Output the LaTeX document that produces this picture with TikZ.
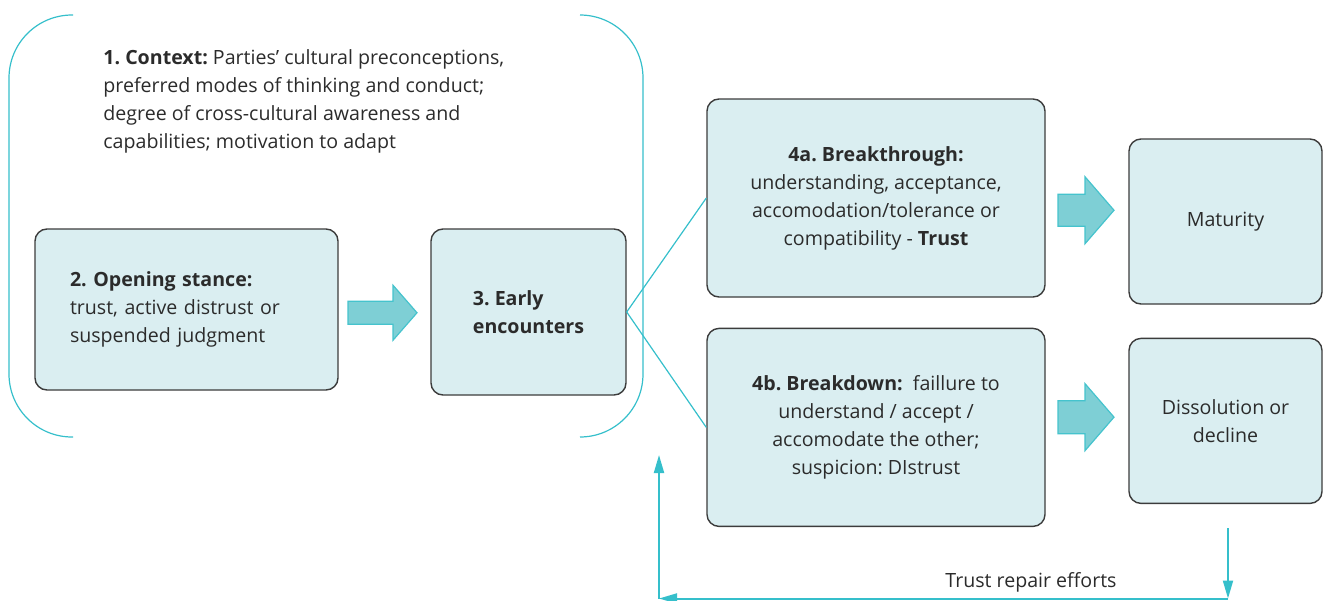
\documentclass[tikz,border=0pt]{standalone}
\usepackage{fontspec}
\setmainfont{Open Sans}
\frenchspacing
\usepackage{tikz}
\usetikzlibrary{positioning}
\usetikzlibrary{arrows.meta,calc}
\definecolor{boxfill}{HTML}{DAEEF1}
\definecolor{boxline}{HTML}{3C3C3C}
\definecolor{tealline}{HTML}{35BFCB}
\definecolor{arrowfill}{HTML}{7ECFD5}
\definecolor{arrowline}{HTML}{45C3CD}
\definecolor{textgray}{HTML}{2B2B2B}
\tikzstyle{stage box}=[draw=boxline,fill=boxfill,line width=0.7pt,rounded corners=6pt,text=textgray,font=\fontsize{9.8}{14}\selectfont,inner sep=0pt]
\tikzstyle{link edge}=[draw=tealline,line width=0.6pt]
\tikzstyle{repair edge}=[draw=tealline,line width=1pt,-{Triangle[length=9pt,width=5pt]}]
\tikzstyle{fat arrow}=[fill=arrowfill,draw=arrowline,line width=0.6pt,line join=miter]
\newcommand{\stagenode}[3][]{
  \node [stage box, #1] (#2) {#3}
}
% tip, length, head length, half shaft, half head
\newcommand{\fatarrow}[5]{
  \filldraw[fat arrow, shift={#1}] (0,0) -- (-#3,-#5) -- (-#3,-#4) -- (-#2,-#4) -- (-#2,#4) -- (-#3,#4) -- (-#3,#5) -- cycle
}

\begin{document}
\begin{tikzpicture}[x=0.5pt,y=-0.5pt]
        \useasboundingbox (0,0) rectangle (1323,600);

        % stage 1 bracket
        \draw[link edge, rounded corners=31.5pt] (73,15) -- (9,15) -- (9,437) -- (73,437);
        \draw[link edge, rounded corners=31.5pt] (580,15) -- (643,15) -- (643,437) -- (580,437);
        \node [anchor=west, inner sep=0pt, align=left, text=textgray, font=\fontsize{9.8}{14}\selectfont] (context) at (103,101)
            {\textbf{1. Context:} Parties’ cultural preconceptions,\\ preferred modes of thinking and conduct;\\ degree of cross-cultural awareness and\\ capabilities; motivation to adapt};

        \stagenode[align=left, text width=116.5pt, inner xsep=17.5pt, minimum width=151.5pt, minimum height=80.5pt, at={(186.5,309.5)}]{opening}{\textbf{2. Opening stance:}\\ trust, active distrust or\\ suspended judgment};
        \stagenode[align=left, minimum width=97.5pt, minimum height=83pt, at={(528.5,312)}]{early}{\textbf{3. Early}\\ \textbf{encounters}};
        \stagenode[align=center, minimum width=169pt, minimum height=99pt, at={(876,198)}]{breakthrough}{\textbf{4a. Breakthrough:}\\ understanding, acceptance,\\ accomodation/tolerance or\\ compatibility - \textbf{Trust}};
        \stagenode[align=center, minimum width=169pt, minimum height=99pt, below=15pt of breakthrough]{breakdown}{\textbf{4b. Breakdown:}\ \ faillure to\\ understand / accept /\\ accomodate the other;\\ suspicion: DIstrust};
        \stagenode[align=center, minimum width=96.5pt, minimum height=82.5pt, at={(1225.5,221.5)}]{maturity}{Maturity};
        \stagenode[align=center, minimum width=96.5pt, minimum height=82.5pt, below=16.5pt of maturity]{dissolution}{Dissolution or\\ decline};

        \fatarrow{($(opening.east)!0.5!(early.west)+(32.5,2)$)}{69}{24}{11.5}{27.5};
        \fatarrow{($(breakthrough.east)!0.5!(maturity.west)+(27,0.5)$)}{56}{29}{16}{33.5};
        \fatarrow{($(breakdown.east)!0.5!(dissolution.west)+(27,-7)$)}{56}{29}{16.5}{33.5};

        \draw[link edge] (early.east) -- (breakthrough.west);
        \draw[link edge] (early.east) -- (breakdown.west);

        % trust repair loop
        \coordinate (r1) at ($(dissolution.south)+(2.5,24)$);
        \coordinate (r2) at (1228,598.5);
        \coordinate (r3) at (659,598.5);
        \coordinate (r4) at (659,455);
        \draw[repair edge] (r1) -- (r2);
        \draw[repair edge] (r2) -- (r3);
        \draw[repair edge] (r3) -- (r4);
        \node [text=textgray, font=\fontsize{9.8}{14}\selectfont] (repair) at (1031,582) {Trust repair efforts};
\end{tikzpicture}
\end{document}
